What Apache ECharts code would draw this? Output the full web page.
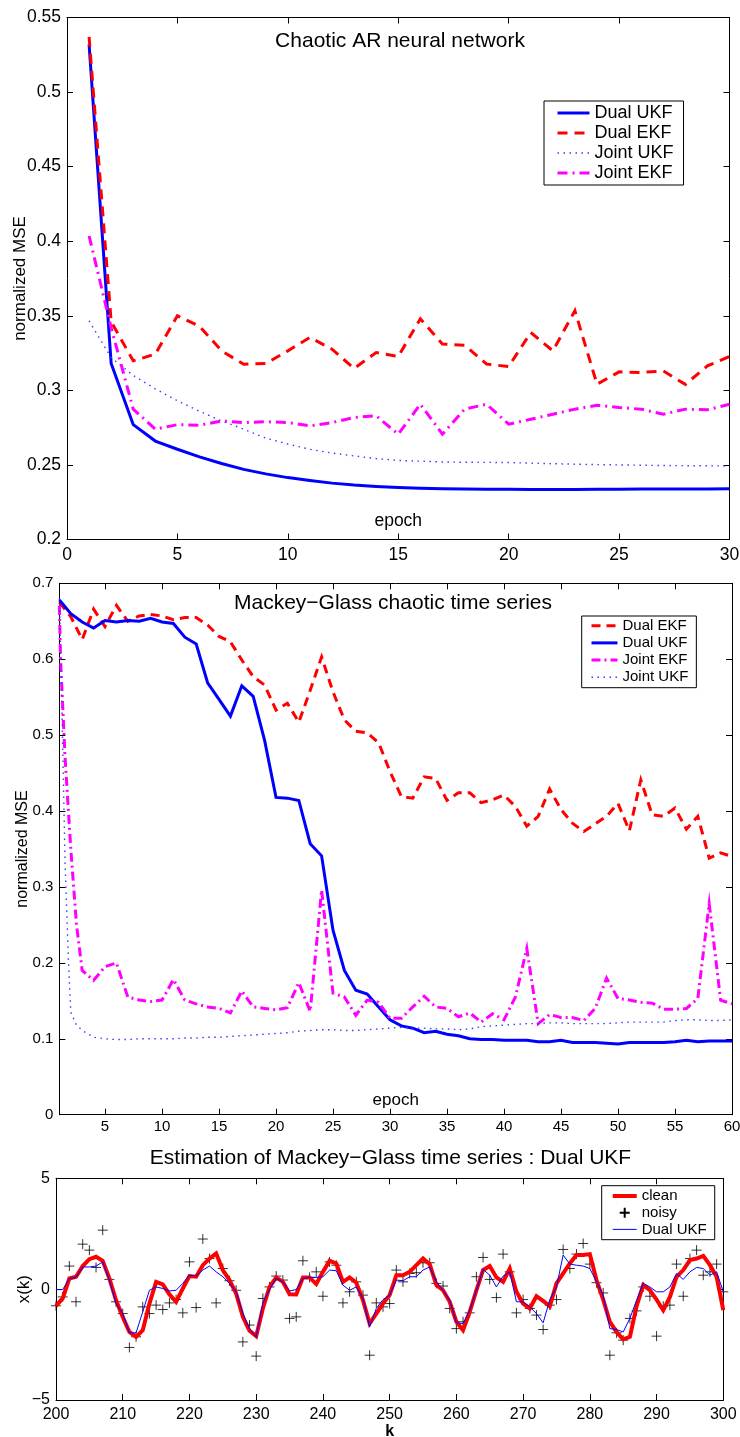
<!DOCTYPE html>
<html>
<head>
<meta charset="utf-8">
<script src="https://cdn.jsdelivr.net/npm/echarts@6/dist/echarts.min.js"></script>
<style>
html, body { margin: 0; padding: 0; background: #fff; }
.panel { position: absolute; left: 0; width: 740px; }
</style>
</head>
<body>
<div class="panel" id="c1" style="top:0;height:570px"></div>
<div class="panel" id="c2" style="top:570px;height:570px"></div>
<div class="panel" id="c3" style="top:1140px;height:297px"></div>
<script>
// ---- data: chaotic AR neural network ----
var epochs1 = [1,2,3,4,5,6,7,8,9,10,11,12,13,14,15,16,17,18,19,20,21,22,23,24,25,26,27,28,29,30];
var dualUkf1 = [0.532,0.318,0.277,0.266,0.2605,0.2554,0.251,0.247,0.244,0.2415,0.2395,0.2378,0.2365,0.2356,0.2348,0.2343,0.234,0.2338,0.2337,0.2337,0.2336,0.2336,0.2336,0.2337,0.2337,0.2338,0.2338,0.2339,0.2339,0.234];
var dualEkf1 = [0.537,0.346,0.3198,0.3243,0.35,0.343,0.3265,0.3175,0.318,0.3265,0.3355,0.3276,0.3147,0.3254,0.3227,0.348,0.331,0.3303,0.3176,0.316,0.3388,0.3265,0.3534,0.3041,0.3124,0.312,0.313,0.304,0.3164,0.3227];
var jointUkf1 = [0.3466,0.322,0.31,0.301,0.293,0.286,0.2795,0.274,0.268,0.264,0.2605,0.258,0.256,0.2543,0.253,0.2525,0.252,0.2518,0.2517,0.2516,0.2512,0.2508,0.2505,0.2502,0.25,0.2498,0.2496,0.2495,0.2494,0.2493];
var jointEkf1 = [0.4035,0.342,0.2874,0.274,0.277,0.2766,0.2795,0.2784,0.279,0.2784,0.2762,0.2784,0.2818,0.2829,0.2706,0.2907,0.2706,0.2874,0.2907,0.2773,0.2806,0.284,0.2874,0.29,0.2885,0.2874,0.284,0.2874,0.287,0.2907];

// ---- data: Mackey-Glass chaotic time series ----
var epochs2 = [1,2,3,4,5,6,7,8,9,10,11,12,13,14,15,16,17,18,19,20,21,22,23,24,25,26,27,28,29,30,
  31,32,33,34,35,36,37,38,39,40,41,42,43,44,45,46,47,48,49,50,51,52,53,54,55,56,57,58,59,60];
var dualEkf2 = [0.675,0.656,0.626,0.666,0.643,0.671,0.65,0.657,0.659,0.657,0.652,0.655,0.655,0.645,0.63,0.623,0.599,0.577,0.566,0.533,
  0.542,0.517,0.559,0.603,0.557,0.52,0.505,0.503,0.49,0.452,0.419,0.417,0.445,0.443,0.414,0.424,0.424,0.411,0.415,0.421,
  0.406,0.38,0.393,0.429,0.402,0.384,0.373,0.383,0.393,0.41,0.374,0.441,0.395,0.393,0.404,0.376,0.393,0.338,0.345,0.34];
var dualUkf2 = [0.678,0.66,0.649,0.641,0.651,0.649,0.651,0.65,0.654,0.649,0.647,0.629,0.62,0.569,0.547,0.525,0.565,0.551,0.493,0.418,
  0.417,0.414,0.357,0.341,0.243,0.19,0.164,0.159,0.142,0.125,0.117,0.114,0.108,0.11,0.106,0.104,0.1,0.099,0.099,0.098,
  0.098,0.098,0.096,0.096,0.098,0.095,0.095,0.095,0.094,0.093,0.095,0.095,0.095,0.095,0.096,0.098,0.096,0.097,0.097,0.097];
var jointEkf2X = [1,1.1,1.5,2,2.5,3,4,5,6,7,8,9,10,11,12,13,14,15,16,17,18,19,20,21,22,23,24,25,26,27,28,29,30,
  31,32,33,34,35,36,37,38,39,40,41,42,43,44,45,46,47,48,49,50,51,52,53,54,55,56,57,58,59,60];
var jointEkf2 = [0.67,0.6,0.47,0.35,0.25,0.19,0.177,0.195,0.2,0.155,0.151,0.149,0.151,0.178,0.151,0.146,0.142,0.14,0.134,0.163,
  0.142,0.14,0.138,0.141,0.174,0.136,0.296,0.16,0.155,0.131,0.151,0.148,0.127,0.127,0.142,0.156,0.142,0.14,0.129,0.134,
  0.122,0.133,0.125,0.155,0.219,0.12,0.132,0.128,0.128,0.124,0.14,0.18,0.153,0.151,0.148,0.147,0.139,0.139,0.14,0.153,
  0.278,0.151,0.146];
var jointUkf2X = [1,1.2,1.5,1.8,2,2.5,3,4,5,6,7,8,9,10,11,12,13,14,15,16,17,18,19,20,21,22,23,24,25,26,27,28,29,30,
  31,32,33,34,35,36,37,38,39,40,41,42,43,44,45,46,47,48,49,50,51,52,53,54,55,56,57,58,59,60];
var jointUkf2 = [0.68,0.55,0.33,0.2,0.135,0.118,0.111,0.102,0.1,0.099,0.099,0.1,0.1,0.1,0.1,0.101,0.101,0.102,0.102,0.103,
  0.104,0.105,0.106,0.107,0.108,0.11,0.111,0.112,0.112,0.111,0.111,0.112,0.113,0.114,0.115,0.114,0.114,0.113,0.113,0.112,
  0.113,0.116,0.117,0.118,0.119,0.12,0.12,0.121,0.121,0.12,0.12,0.12,0.12,0.121,0.122,0.122,0.122,0.122,0.124,0.125,
  0.125,0.124,0.124,0.125];
var xTicks2 = [5,10,15,20,25,30,35,40,45,50,55,60];

// ---- data: estimation of Mackey-Glass time series ----
var kValues = [200,201,202,203,204,205,206,207,208,209,210,211,212,213,214,215,216,217,218,219,
  220,221,222,223,224,225,226,227,228,229,230,231,232,233,234,235,236,237,238,239,
  240,241,242,243,244,245,246,247,248,249,250,251,252,253,254,255,256,257,258,259,
  260,261,262,263,264,265,266,267,268,269,270,271,272,273,274,275,276,277,278,279,
  280,281,282,283,284,285,286,287,288,289,290,291,292,293,294,295,296,297,298,299,300];
var clean3 = [-0.75,-0.42,0.48,0.56,1.04,1.35,1.46,1.28,0.48,-0.5,-1.25,-1.93,-2.15,-1.85,-0.65,0.33,0.21,-0.24,-0.57,0.03,
  0.59,0.56,1.08,1.38,1.61,0.86,0.41,-0.2,-1.25,-1.88,-2.12,-0.87,0.1,0.53,0.33,-0.23,-0.24,0.53,0.53,0.23,
  0.78,1.28,1.16,0.33,0.53,0.29,-0.5,-1.55,-1.1,-0.65,-0.27,0.63,0.63,0.78,1.08,1.38,1.13,0.18,-0.05,-0.57,
  -1.47,-1.85,-1.02,-0.05,0.86,1.04,0.53,0.33,0.93,-0.12,-0.65,-0.87,-0.32,-0.53,-0.77,0.26,0.71,1.16,1.54,1.54,
  1.58,0.41,-0.47,-1.47,-1.93,-2.27,-2.15,-0.77,0.18,-0.05,-0.47,-0.95,-0.35,0.56,0.86,1.31,1.38,1.5,1.08,0.56,-0.95];
var noisy3 = [-0.75,-0.35,1.04,-0.57,2.03,1.76,0.98,2.66,0.44,-0.57,-1.1,-2.63,-2.15,-0.8,-1.1,-0.72,-0.92,-0.62,-0.47,-1.07,
  1.23,-0.83,2.26,1.38,-0.62,0.93,0.38,-0.05,-2.38,-1.62,-3.02,-0.42,0.1,0.59,0.41,-1.32,-1.25,1.28,0.53,0.78,
  -0.32,1.23,1.08,-0.62,-0.12,0.33,-0.27,-2.98,-0.62,-0.8,-0.65,0.86,0.33,0.71,0.74,1.19,1.19,0.26,0.14,-0.87,
  -1.78,-1.47,-1.07,0.56,1.43,0.44,-0.38,1.58,0.78,-1.07,-0.47,-0.87,-1.17,-1.82,-0.72,-0.47,1.79,0.93,1.58,2.06,
  1.13,0.29,-0.17,-2.98,-1.97,-2.3,-1.32,-0.98,0.1,-0.32,-2.12,-0.77,-0.72,1.13,-0.32,1.38,1.76,0.63,0.78,1.13,-0.12];
var dualUkf3 = [-0.02,-0.02,0.48,0.53,1.0,1.0,1.04,1.23,0.4,-0.65,-1.1,-1.97,-1.97,-1.02,-0.05,0.1,0.03,-0.08,-0.05,0.26,
  0.63,0.59,0.86,1.04,0.78,0.56,0.26,-0.12,-1.1,-1.78,-2.15,-0.62,-0.02,0.48,0.33,-0.08,-0.02,0.48,0.53,0.53,
  0.56,0.86,0.83,0.18,-0.05,0.1,-0.42,-1.7,-0.87,-0.47,-0.27,0.41,0.38,0.56,0.56,0.86,1.0,0.33,-0.05,-0.5,
  -1.52,-1.55,-0.95,-0.05,0.89,0.63,0.1,0.59,0.78,-0.57,-0.57,-0.8,-1.1,-1.52,-0.47,0.1,1.54,1.13,1.08,1.04,
  0.93,0.33,-0.27,-1.78,-1.82,-1.93,-1.32,-0.5,0.26,0.1,-0.12,-0.12,0.1,0.71,0.44,0.78,0.98,0.93,0.63,0.78,-0.12];

var FONT = '"Liberation Sans", Arial, Helvetica, sans-serif';

function pairs(xs, ys) {
  return xs.map(function (x, i) { return [x, ys[i]]; });
}

function lineSeries(name, xs, ys, color, width, type) {
  return {
    name: name,
    type: 'line',
    data: pairs(xs, ys),
    symbol: 'none',
    showSymbol: false,
    animation: false,
    lineStyle: { color: color, width: width, type: type, cap: 'butt', join: 'miter' },
    itemStyle: { color: color }
  };
}

// axis helpers, matlab-like box with inward ticks on all four sides
function axisBase(fontSize) {
  return {
    axisLine: { show: true, onZero: false, lineStyle: { color: '#000', width: 1 } },
    axisTick: { show: true, inside: true, length: 6, lineStyle: { color: '#000', width: 1 } },
    splitLine: { show: false },
    axisLabel: { color: '#000', fontFamily: FONT, fontSize: fontSize, margin: 6 },
    nameMoveOverlap: false,
    nameTextStyle: { color: '#000', fontFamily: FONT }
  };
}
function mirror(axis, position) {
  var m = JSON.parse(JSON.stringify(axis));
  m.position = position;
  m.name = '';
  m.axisLabel.show = false;
  if (axis.axisLabel.formatter) delete m.axisLabel.formatter;
  return m;
}
// legend: line samples only, the symbol dot of line series is hidden
function legendBox(left, top, padding, fontSize, itemWidth, itemGap, names) {
  return {
    orient: 'vertical',
    left: left,
    top: top,
    padding: padding,
    itemGap: itemGap,
    itemWidth: itemWidth,
    itemHeight: 10,
    borderColor: '#000',
    borderWidth: 1,
    borderRadius: 0,
    backgroundColor: '#fff',
    selectedMode: false,
    itemStyle: { opacity: 0 },
    lineStyle: { width: 'inherit' },
    textStyle: { color: '#000', fontFamily: FONT, fontSize: fontSize, lineHeight: fontSize },
    data: names
  };
}
function titleAt(text, cx, top) {
  return {
    text: text,
    left: cx,
    top: top,
    textAlign: 'center',
    padding: 0,
    textStyle: { color: '#000', fontFamily: FONT, fontSize: 21, fontWeight: 'normal' }
  };
}
function decimals(v) { return String(+v.toFixed(2)); }

//chart 1: Chaotic AR neural network
(function () {
  var myChart = echarts.init(document.getElementById('c1'));
  var x = axisBase(17.5);
  x.type = 'value'; x.min = 0; x.max = 30; x.interval = 5;
  x.axisLabel.margin = 7;
  x.name = 'epoch'; x.nameLocation = 'middle'; x.nameGap = -27;
  x.nameTextStyle.fontSize = 17.5;
  var y = axisBase(17.5);
  y.type = 'value'; y.min = 0.2; y.max = 0.55; y.interval = 0.05;
  y.axisLabel.formatter = decimals;
  y.name = 'normalized MSE'; y.nameLocation = 'middle'; y.nameGap = 38;
  y.nameTextStyle.fontSize = 17;
  var option = {
    animation: false,
    title: titleAt('Chaotic AR neural network', 400, 31),
    grid: { left: 67, right: 10.5, top: 17.5, bottom: 30.5, outerBoundsMode: 'none' },
    xAxis: [x, mirror(x, 'top')],
    yAxis: [y, mirror(y, 'right')],
    legend: legendBox(544, 101, [3, 10, 3, 12], 18, 32, 2, ['Dual UKF', 'Dual EKF', 'Joint UKF', 'Joint EKF']),
    series: [
      lineSeries('Dual UKF', epochs1, dualUkf1, '#0000ff', 3, 'solid'),
      lineSeries('Dual EKF', epochs1, dualEkf1, '#ff0000', 3, [10, 7]),
      lineSeries('Joint UKF', epochs1, jointUkf1, '#3b3bff', 1.4, [1.5, 4.5]),
      lineSeries('Joint EKF', epochs1, jointEkf1, '#ff00ff', 3, [10, 5, 2, 5])
    ]
  };
  myChart.setOption(option);
})();

//chart 2: Mackey-Glass chaotic time series
(function () {
  var myChart = echarts.init(document.getElementById('c2'));
  var x = axisBase(15);
  x.type = 'value'; x.min = 1; x.max = 60;
  x.axisLabel.customValues = xTicks2;
  x.axisTick.customValues = xTicks2;
  x.axisLabel.margin = 5;
  x.name = 'epoch'; x.nameLocation = 'middle'; x.nameGap = -23;
  x.nameTextStyle.fontSize = 17;
  var y = axisBase(15);
  y.type = 'value'; y.min = 0; y.max = 0.7; y.interval = 0.1;
  y.axisLabel.formatter = decimals;
  y.name = 'normalized MSE'; y.nameLocation = 'middle'; y.nameGap = 29;
  y.nameTextStyle.fontSize = 16;
  var xTop = mirror(x, 'top');
  xTop.axisTick.customValues = xTicks2;
  var option = {
    animation: false,
    title: titleAt('Mackey\u2212Glass chaotic time series', 393, 22.5),
    grid: { left: 59.4, right: 8, top: 13.3, bottom: 25.3, outerBoundsMode: 'none' },
    xAxis: [x, xTop],
    yAxis: [y, mirror(y, 'right')],
    legend: legendBox(581.7, 46, [2.2, 8, 2.9, 8.3], 15, 26, 2.2, ['Dual EKF', 'Dual UKF', 'Joint EKF', 'Joint UKF']),
    series: [
      lineSeries('Dual EKF', epochs2, dualEkf2, '#ff0000', 3, [9, 6]),
      lineSeries('Dual UKF', epochs2, dualUkf2, '#0000ff', 3, 'solid'),
      lineSeries('Joint EKF', jointEkf2X, jointEkf2, '#ff00ff', 3, [9, 4, 2, 4]),
      lineSeries('Joint UKF', jointUkf2X, jointUkf2, '#3b3bff', 1.4, [1.5, 4.5])
    ]
  };
  myChart.setOption(option);
})();

//chart 3: Estimation of Mackey-Glass time series : Dual UKF
(function () {
  var myChart = echarts.init(document.getElementById('c3'));
  var x = axisBase(16);
  x.type = 'value'; x.min = 200; x.max = 300; x.interval = 10;
  x.axisLabel.margin = 7;
  x.name = 'k'; x.nameLocation = 'middle'; x.nameGap = 24;
  x.nameTextStyle.fontSize = 16; x.nameTextStyle.fontWeight = 'bold';
  var y = axisBase(16);
  y.type = 'value'; y.min = -5; y.max = 5; y.interval = 5;
  y.axisLabel.formatter = function (v) { return v < 0 ? '\u2212' + Math.abs(v) : String(v); };
  y.name = 'x(k)'; y.nameLocation = 'middle'; y.nameGap = 23;
  y.nameTextStyle.fontSize = 17;
  var legend = legendBox(601.7, 45.7, [2.8, 8, 2.8, 9], 15, 24, 1.7, ['clean', 'noisy', 'Dual UKF']);
  legend.data[1] = { name: 'noisy', itemStyle: { opacity: 1 } };
  var option = {
    animation: false,
    title: titleAt('Estimation of Mackey\u2212Glass time series : Dual UKF', 390.5, 8),
    grid: { left: 56, right: 16.7, top: 38.3, bottom: 37, outerBoundsMode: 'none' },
    xAxis: [x, mirror(x, 'top')],
    yAxis: [y, mirror(y, 'right')],
    legend: legend,
    series: [
      lineSeries('clean', kValues, clean3, '#ff0000', 4, 'solid'),
      {
        name: 'noisy',
        type: 'scatter',
        data: pairs(kValues, noisy3),
        symbol: 'path://M0,5 L10,5 M5,0 L5,10',
        symbolSize: 10,
        animation: false,
        itemStyle: { color: 'rgba(0,0,0,0)', borderColor: '#000', borderWidth: 1 }
      },
      lineSeries('Dual UKF', kValues, dualUkf3, '#0000ff', 1, 'solid')
    ]
  };
  myChart.setOption(option);
})();
</script>
</body>
</html>
